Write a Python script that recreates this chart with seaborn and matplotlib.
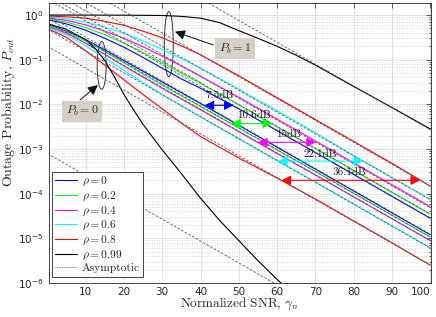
import numpy as np
import pandas as pd
import matplotlib
matplotlib.use("Agg")
import matplotlib.pyplot as plt
import seaborn as sns
from matplotlib.patches import Ellipse
from matplotlib.lines import Line2D
from matplotlib.ticker import FixedLocator, FuncFormatter, LogLocator, NullFormatter

# ---------------- data (log10 of outage probability) ----------------
snr = [0, 5, 10, 15, 20, 25, 30, 35, 40, 50, 60, 70, 80, 90, 100]
rho_labels = ["0", "0.2", "0.4", "0.6", "0.8", "0.99"]
colors = ["#0000ff", "#00ff00", "#ff00ff", "#00ffff", "#ff0000", "#000000"]

# P_b = 0 group
low_blue = [-0.21, -0.36, -0.55, -0.78, -1.02, -1.26, -1.50, -1.74, -1.98, -2.47, -2.96, -3.45, -3.94, -4.43, -4.92]
low_green = [-0.23, -0.38, -0.58, -0.82, -1.07, -1.32, -1.57, -1.81, -2.05, -2.53, -3.02, -3.50, -3.99, -4.48, -4.97]
low_magenta = [-0.25, -0.41, -0.63, -0.88, -1.14, -1.39, -1.64, -1.88, -2.12, -2.61, -3.10, -3.58, -4.07, -4.56, -5.05]
low_cyan = [-0.27, -0.45, -0.69, -0.96, -1.24, -1.51, -1.78, -2.03, -2.28, -2.77, -3.26, -3.74, -4.23, -4.72, -5.21]
low_red = [-0.30, -0.50, -0.80, -1.12, -1.45, -1.78, -2.10, -2.42, -2.72, -3.20, -3.65, -4.12, -4.61, -5.10, -5.60]
snr_black_low = [0, 5, 10, 12.5, 15, 17.5, 20, 22.5, 25, 30, 35, 40, 45, 50, 55, 60, 65]
low_black = [-0.19, -0.32, -0.55, -0.75, -1.02, -1.38, -1.78, -2.12, -2.45, -3.02, -3.55, -4.10, -4.60, -5.05, -5.50, -5.92, -6.30]

# P_b = 1 group
up_blue = [-0.10, -0.20, -0.34, -0.52, -0.72, -0.95, -1.19, -1.43, -1.64, -2.10, -2.59, -3.08, -3.57, -4.06, -4.55]
up_green = [-0.08, -0.16, -0.28, -0.44, -0.63, -0.84, -1.07, -1.30, -1.53, -2.01, -2.50, -2.99, -3.48, -3.97, -4.46]
up_magenta = [-0.06, -0.12, -0.22, -0.36, -0.52, -0.71, -0.92, -1.14, -1.37, -1.84, -2.33, -2.82, -3.31, -3.80, -4.29]
up_cyan = [-0.04, -0.08, -0.16, -0.27, -0.41, -0.58, -0.77, -0.97, -1.19, -1.66, -2.14, -2.63, -3.15, -3.64, -4.13]
up_red = [-0.02, -0.04, -0.07, -0.14, -0.23, -0.36, -0.51, -0.69, -0.89, -1.36, -1.85, -2.34, -2.83, -3.32, -3.83]
snr_black_up = [0, 10, 20, 30, 35, 40, 45, 50, 55, 60, 65, 70, 80, 90, 100]
up_black = [0.0, -0.001, -0.003, -0.01, -0.03, -0.07, -0.17, -0.35, -0.52, -0.70, -0.90, -1.12, -1.60, -2.07, -2.55]

# asymptotes: log10 value at SNR = 0 and SNR = 100
asym_snr = [0, 100]
asym_low = [(-0.006, -4.906), (-0.073, -4.973), (-0.15, -5.05), (-0.315, -5.215), (-0.70, -5.60), (-3.1, -8.0)]
asym_up = [(0.36, -4.54), (0.446, -4.454), (0.585, -4.315), (0.768, -4.132), (1.069, -3.831), (2.33, -2.57)]

# dB gap arrows
gap_labels = ["7.5dB", "10.6dB", "15dB", "22.1dB", "36.1dB"]
gap_left = [41.1, 48.1, 55.1, 60.3, 61.2]
gap_right = [48.6, 58.7, 70.1, 82.4, 97.3]
gap_level = [-2.02, -2.43, -2.85, -3.27, -3.70]
gap_text_x = [45.1, 53.9, 63.1, 71.4, 79.0]
gap_text_y = [-1.80, -2.24, -2.66, -3.11, -3.52]

# ---------------- figure ----------------
sns.set_theme(style="white")
plt.rcParams["font.family"] = ["DejaVu Sans"]
plt.rcParams["mathtext.fontset"] = "cm"
plt.rcParams["axes.unicode_minus"] = True

fig = plt.figure(figsize=(4.36, 3.17), dpi=100)
ax = fig.add_axes([48.5 / 436, 34 / 317, 382.5 / 436, 280 / 317])
ax.set_yscale("log")

low_sets = [low_blue, low_green, low_magenta, low_cyan, low_red]
up_sets = [up_blue, up_green, up_magenta, up_cyan, up_red]
for vals, c in zip(low_sets, colors[:5]):
    sns.lineplot(x=snr, y=10 ** np.array(vals), ax=ax, color=c, lw=0.8,
                 estimator=None, sort=False, legend=False)
for vals, c in zip(up_sets, colors[:5]):
    sns.lineplot(x=snr, y=10 ** np.array(vals), ax=ax, color=c, lw=0.8,
                 estimator=None, sort=False, legend=False)
sns.lineplot(x=snr_black_low, y=10 ** np.array(low_black), ax=ax, color="#000000",
             lw=0.8, estimator=None, sort=False, legend=False)
sns.lineplot(x=snr_black_up, y=10 ** np.array(up_black), ax=ax, color="#000000",
             lw=0.8, estimator=None, sort=False, legend=False)

asym_style = dict(color="#555555", lw=0.6, ls=(0, (3, 2)))
for a0, a1 in asym_low + asym_up:
    ax.plot(asym_snr, [10 ** a0, 10 ** a1], **asym_style)

ax.set_xlim(0.3, 100.2)
ax.set_ylim(1e-6, 1.86)

# ticks and grid (MATLAB look)
ax.xaxis.set_major_locator(FixedLocator([10, 20, 30, 40, 50, 60, 70, 80, 90, 100]))
ax.yaxis.set_major_locator(FixedLocator([1e-6, 1e-5, 1e-4, 1e-3, 1e-2, 1e-1, 1]))
ax.yaxis.set_minor_locator(LogLocator(base=10, subs=np.arange(2, 10), numticks=20))
ax.yaxis.set_minor_formatter(NullFormatter())
ax.yaxis.set_major_formatter(FuncFormatter(lambda v, p: r"$\mathregular{10^{%d}}$" % round(np.log10(v))))
ax.tick_params(which="both", direction="in", top=True, right=True, colors="#262626",
               labelsize=7.5, width=0.5)
ax.tick_params(which="major", length=3.5)
ax.tick_params(which="minor", length=1.8)
ax.tick_params(axis="x", pad=3)
ax.grid(which="major", color="#dedede", lw=0.6, ls="-")
ax.grid(which="minor", axis="y", color="#cccccc", lw=0.6, ls=(0, (1, 2)))
ax.set_axisbelow(True)
for s in ax.spines.values():
    s.set_color("#262626")
    s.set_linewidth(0.6)
fig.canvas.draw()
xt = ax.get_xticklabels()
xt[-1].set_horizontalalignment("right")

ax.set_xlabel(r"Normalized SNR, $\gamma_n$", fontfamily="cmr10", fontsize=9.5, labelpad=-1)
ax.set_ylabel(r"Outage Probability, $P_{out}$", fontfamily="cmr10", fontsize=10)
ax.yaxis.set_label_coords(-0.083, 0.61)

# dB gap arrows
for lab, xl, xr, yv, tx, ty, c in zip(gap_labels, gap_left, gap_right, gap_level,
                                      gap_text_x, gap_text_y, colors[:5]):
    ax.annotate("", xy=(xr, 10 ** yv), xytext=(xl, 10 ** yv),
                arrowprops=dict(arrowstyle="<|-|>,head_length=0.55,head_width=0.28",
                                color=c, lw=0.8, shrinkA=0, shrinkB=0, mutation_scale=10))
    ax.text(tx, 10 ** ty, lab, fontfamily="cmr10", fontsize=8, ha="center", va="center",
            color="#1a1a1a")

# ellipses and group labels
ax.add_patch(Ellipse((0.139, 0.777), 0.0235, 0.171, transform=ax.transAxes,
                     fill=False, ec="#333333", lw=0.7))
ax.add_patch(Ellipse((0.3145, 0.853), 0.0235, 0.232, transform=ax.transAxes,
                     fill=False, ec="#333333", lw=0.7))
box = dict(boxstyle="square,pad=0.3", fc="#d4d0c8", ec="none")
ax.text(0.0876, 0.613, r"$P_b = 0$", transform=ax.transAxes, ha="center", va="center",
        fontsize=8.5, bbox=box)
ax.text(0.4876, 0.8368, r"$P_b = 1$", transform=ax.transAxes, ha="center", va="center",
        fontsize=8.5, bbox=box)
arr = dict(arrowstyle="-|>,head_length=0.6,head_width=0.3", color="#111111", lw=0.7,
           mutation_scale=10, shrinkA=0, shrinkB=0)
ax.annotate("", xy=(0.1289, 0.7071), xytext=(0.0824, 0.6536), xycoords="axes fraction",
            arrowprops=arr)
ax.annotate("", xy=(0.3307, 0.8975), xytext=(0.4308, 0.85), xycoords="axes fraction",
            arrowprops=arr)

# legend
handles = [Line2D([], [], color=c, lw=0.8) for c in colors]
labels = [r"$\rho = %s$" % r for r in rho_labels]
handles.append(Line2D([], [], color="#555555", lw=0.6, ls=(0, (1, 1))))
labels.append("Asymptotic")
leg = ax.legend(handles, labels, loc="lower left", bbox_to_anchor=(0.0084, 0.0225),
                borderaxespad=0, prop={"family": "cmr10", "size": 8.3},
                frameon=True, fancybox=False, framealpha=1, edgecolor="#262626",
                handlelength=1.9, handletextpad=0.4, labelspacing=0.12,
                borderpad=0.3)
leg.get_frame().set_linewidth(0.6)

fig.savefig("out.png", dpi=100)
